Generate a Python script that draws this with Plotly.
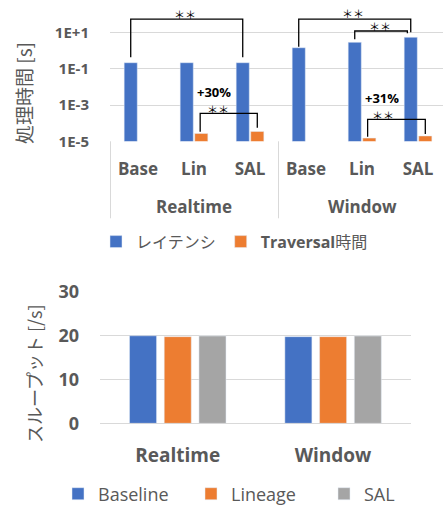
import plotly.graph_objects as go

# ---------------- data ----------------
outer_groups = ["Realtime", "Window"]
inner_labels = ["Base", "Lin", "SAL", "Base", "Lin", "SAL"]
latency_s = [0.22, 0.22, 0.22, 1.48, 2.95, 5.6]
traversal_s = [None, 2.7e-5, 3.5e-5, None, 1.5e-5, 1.97e-5]
latency_tickvals = [1e-5, 1e-3, 1e-1, 1e1]
latency_ticktext = ["1E-5", "1E-3", "1E-1", "1E+1"]

tp_categories = ["Realtime", "Window"]
tp_baseline = [19.95, 19.75]
tp_lineage = [19.75, 19.75]
tp_sal = [19.9, 19.9]
tp_tickvals = [0, 10, 20, 30]

# significance brackets (x in category index units, y in data units)
brackets = [
    dict(x=[-0.13, -0.13, 1.87, 1.87], y=[0.436, 57, 57, 0.436]),
    dict(x=[2.87, 2.87, 4.87, 4.87], y=[1.69, 57, 57, 10.5]),
    dict(x=[3.87, 3.87, 4.81, 4.81], y=[4.32, 12.4, 12.4, 9.27]),
    dict(x=[1.11, 1.11, 2.13, 2.13], y=[3.39e-5, 3.52e-4, 3.52e-4, 5.64e-5]),
    dict(x=[4.10, 4.10, 5.13, 5.13], y=[1.8e-5, 1.64e-4, 1.64e-4, 2.53e-5]),
]
# bracket labels: (text, x index, log10 y)
bracket_labels = [
    ("＊＊", 0.84, 2.07),
    ("＊＊", 3.84, 2.09),
    ("＊＊", 4.32, 1.387),
    ("<b>+30%</b>", 1.357, -2.276),
    ("＊＊", 1.43, -3.215),
    ("<b>+31%</b>", 4.35, -2.58),
    ("＊＊", 4.375, -3.52),
]

# ---------------- style ----------------
W, H = 443, 506
BLUE, ORANGE, GRAY = "#4472C4", "#ED7D31", "#A5A5A5"
TXT = "#595959"
GRID = "#D9D9D9"
FONT = "Open Sans, Noto Sans CJK JP, sans-serif"
CJK = "Noto Sans CJK JP, sans-serif"

top_xdom = [110 / W, 1.0]
top_ydom = [1 - 141.3 / H, 1 - 12.8 / H]
top_xrange = [-0.5, 5.446]
bot_xdom = [100 / W, 410.7 / W]
bot_ydom = [1 - 423.3 / H, 1 - 291.7 / H]

# bottom chart bar geometry (category units)
bot_bar_width = 0.174
bot_offsets = [-0.31, -0.0866, 0.137]

xpos = list(range(len(inner_labels)))

fig = go.Figure()

fig.add_trace(go.Bar(x=xpos, y=latency_s, name="レイテンシ", marker_color=BLUE,
                     xaxis="x", yaxis="y", legend="legend"))
fig.add_trace(go.Bar(x=xpos, y=traversal_s, name="<b>Traversal</b>時間", marker_color=ORANGE,
                     xaxis="x", yaxis="y", legend="legend"))

for b in brackets:
    fig.add_trace(go.Scatter(x=b["x"], y=b["y"], mode="lines",
                             line=dict(color="black", width=1.3),
                             xaxis="x", yaxis="y", showlegend=False, hoverinfo="skip"))

for name, vals, col, off in [("Baseline", tp_baseline, BLUE, bot_offsets[0]),
                             ("Lineage", tp_lineage, ORANGE, bot_offsets[1]),
                             ("SAL", tp_sal, GRAY, bot_offsets[2])]:
    fig.add_trace(go.Bar(x=tp_categories, y=vals, name=name, marker_color=col,
                         width=bot_bar_width, offset=off,
                         xaxis="x2", yaxis="y2", legend="legend2"))

annotations = []
for txt, xv, yv in bracket_labels:
    star = txt.startswith("＊")
    annotations.append(dict(
        text=txt, x=xv, y=yv, xref="x", yref="y", showarrow=False,
        height=11 if star else 13,
        font=dict(family=CJK if star else FONT, size=11 if star else 13, color="black"),
        xanchor="center", yanchor="middle"))

def xpaper(v):
    return top_xdom[0] + (v - top_xrange[0]) / (top_xrange[1] - top_xrange[0]) * (top_xdom[1] - top_xdom[0])

# outer group labels on the top chart
for gi, g in enumerate(outer_groups):
    annotations.append(dict(
        text=f"<b>{g}</b>", x=gi * 3 + 1, xref="x", y=1 - 206.7 / H, yref="paper",
        showarrow=False, font=dict(family=FONT, size=17, color=TXT),
        xanchor="center", yanchor="middle"))

# axis titles
annotations.append(dict(text="処理時間 [s]", x=23 / W, y=1 - 93 / H, xref="paper", yref="paper",
                        textangle=-90, showarrow=False,
                        font=dict(family=CJK, size=19, color=TXT),
                        xanchor="center", yanchor="middle"))
annotations.append(dict(text="スループット [/s]", x=34 / W, y=1 - 374 / H, xref="paper", yref="paper",
                        textangle=-90, showarrow=False,
                        font=dict(family=CJK, size=18, color=TXT),
                        xanchor="center", yanchor="middle"))

# group dividers on the top chart's category axis
shapes = []
for v in [-0.5, 2.5, 5.5]:
    xp = xpaper(v)
    if xp <= 1.0:
        shapes.append(dict(type="line", xref="paper", yref="paper",
                           x0=xp + 0.5 / W, x1=xp + 0.5 / W, y0=top_ydom[0], y1=1 - 218.3 / H,
                           line=dict(color=GRID, width=1)))

fig.update_layout(
    width=W, height=H,
    margin=dict(l=0, r=0, t=0, b=0, autoexpand=False),
    paper_bgcolor="white", plot_bgcolor="white",
    font=dict(family=FONT, color=TXT),
    barmode="group",
    bargap=0.48, bargroupgap=0.1,
    showlegend=True,
    xaxis=dict(domain=top_xdom, anchor="y", range=top_xrange, tickmode="array",
               tickvals=xpos, ticktext=[f"<b>{t}</b>" for t in inner_labels],
               showgrid=False, zeroline=False, showline=False, ticks="",
               tickfont=dict(family=FONT, size=17, color=TXT), ticklabelstandoff=16),
    yaxis=dict(domain=top_ydom, anchor="x", type="log", range=[-5, 2.1],
               tickmode="array", tickvals=latency_tickvals,
               ticktext=[f"<b>{t}</b>" for t in latency_ticktext],
               showgrid=True, gridcolor=GRID, gridwidth=1, showline=False, ticks="",
               tickfont=dict(family=FONT, size=15, color=TXT), ticklabelstandoff=20),
    xaxis2=dict(domain=bot_xdom, anchor="y2", range=[-0.5, 1.5], showgrid=False,
                zeroline=False, showline=False,
                ticks="", tickfont=dict(family=FONT, size=19, color=TXT),
                tickmode="array", tickvals=tp_categories,
                ticktext=[f"<b>{c}</b>" for c in tp_categories], ticklabelstandoff=19),
    yaxis2=dict(domain=bot_ydom, anchor="x2", range=[0, 30], tickmode="array",
                tickvals=tp_tickvals, ticktext=[f"<b>{v}</b>" for v in tp_tickvals],
                showgrid=True, gridcolor=GRID, zeroline=True, zerolinecolor=GRID,
                zerolinewidth=1, showline=False, ticks="",
                tickfont=dict(family=FONT, size=18, color=TXT), ticklabelstandoff=20),
    legend=dict(orientation="h", x=96 / W, y=1 - 241.7 / H, xanchor="left", yanchor="middle",
                font=dict(family=FONT, size=16, color=TXT), bgcolor="rgba(0,0,0,0)",
                traceorder="normal"),
    legend2=dict(orientation="h", x=58 / W, y=1 - 494 / H, xanchor="left", yanchor="middle",
                 font=dict(family=FONT, size=18, color=TXT), bgcolor="rgba(0,0,0,0)",
                 traceorder="normal", entrywidth=88, entrywidthmode="pixels"),
    annotations=annotations,
    shapes=shapes,
)

fig.write_html("out.html")
